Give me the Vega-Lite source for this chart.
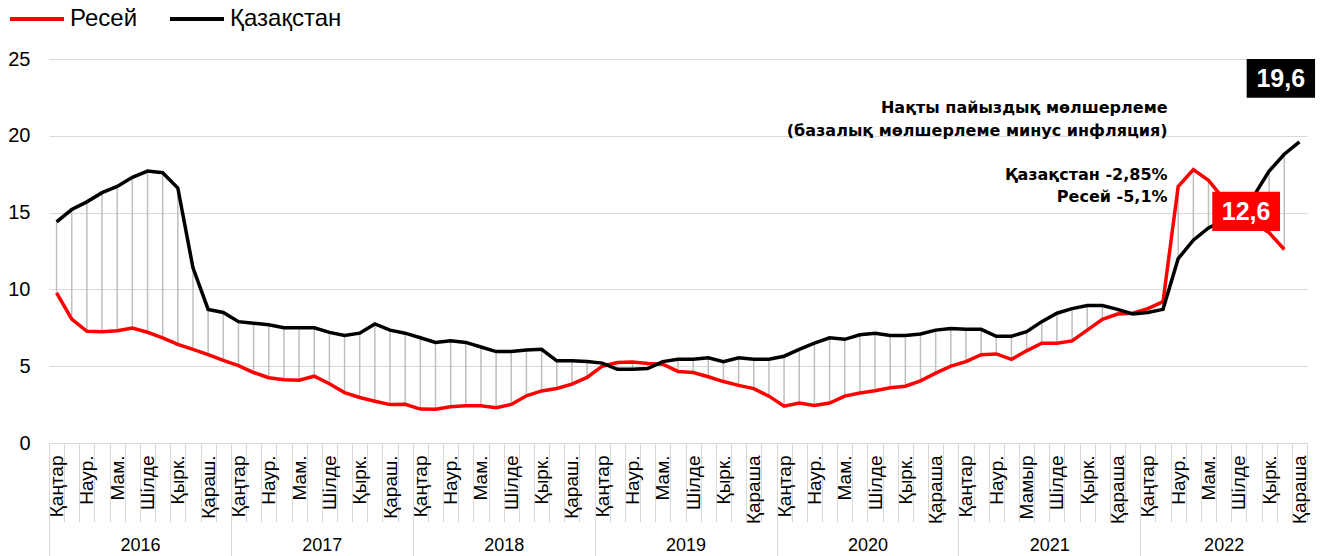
{
  "$schema": "https://vega.github.io/schema/vega-lite/v6.json",
  "width": 1258,
  "height": 384,
  "autosize": {"type": "none"},
  "padding": {"left": 49, "top": 59, "right": 14, "bottom": 113},
  "background": "white",
  "config": {
    "view": {"stroke": null},
    "font": "Liberation Sans",
    "axis": {"labelFont": "Liberation Sans", "labelColor": "#000000"}
  },
  "data": {
    "values": [
      {"i": 0, "Қазақстан": 14.4, "Ресей": 9.77},
      {"i": 1, "Қазақстан": 15.2, "Ресей": 8.06},
      {"i": 2, "Қазақстан": 15.7, "Ресей": 7.27},
      {"i": 3, "Қазақстан": 16.3, "Ресей": 7.25},
      {"i": 4, "Қазақстан": 16.7, "Ресей": 7.31},
      {"i": 5, "Қазақстан": 17.3, "Ресей": 7.48},
      {"i": 6, "Қазақстан": 17.7, "Ресей": 7.21},
      {"i": 7, "Қазақстан": 17.6, "Ресей": 6.85},
      {"i": 8, "Қазақстан": 16.6, "Ресей": 6.42},
      {"i": 9, "Қазақстан": 11.4, "Ресей": 6.09},
      {"i": 10, "Қазақстан": 8.7, "Ресей": 5.76},
      {"i": 11, "Қазақстан": 8.5, "Ресей": 5.38},
      {"i": 12, "Қазақстан": 7.9, "Ресей": 5.04},
      {"i": 13, "Қазақстан": 7.8, "Ресей": 4.59},
      {"i": 14, "Қазақстан": 7.7, "Ресей": 4.25},
      {"i": 15, "Қазақстан": 7.5, "Ресей": 4.12},
      {"i": 16, "Қазақстан": 7.5, "Ресей": 4.09},
      {"i": 17, "Қазақстан": 7.5, "Ресей": 4.35},
      {"i": 18, "Қазақстан": 7.2, "Ресей": 3.86},
      {"i": 19, "Қазақстан": 7.0, "Ресей": 3.28},
      {"i": 20, "Қазақстан": 7.15, "Ресей": 2.96},
      {"i": 21, "Қазақстан": 7.75, "Ресей": 2.72},
      {"i": 22, "Қазақстан": 7.35, "Ресей": 2.5},
      {"i": 23, "Қазақстан": 7.15, "Ресей": 2.52},
      {"i": 24, "Қазақстан": 6.85, "Ресей": 2.21},
      {"i": 25, "Қазақстан": 6.55, "Ресей": 2.2},
      {"i": 26, "Қазақстан": 6.65, "Ресей": 2.36},
      {"i": 27, "Қазақстан": 6.55, "Ресей": 2.42},
      {"i": 28, "Қазақстан": 6.25, "Ресей": 2.42},
      {"i": 29, "Қазақстан": 5.95, "Ресей": 2.3},
      {"i": 30, "Қазақстан": 5.95, "Ресей": 2.51},
      {"i": 31, "Қазақстан": 6.05, "Ресей": 3.07},
      {"i": 32, "Қазақстан": 6.1, "Ресей": 3.39},
      {"i": 33, "Қазақстан": 5.35, "Ресей": 3.55},
      {"i": 34, "Қазақстан": 5.35, "Ресей": 3.83},
      {"i": 35, "Қазақстан": 5.3, "Ресей": 4.27},
      {"i": 36, "Қазақстан": 5.2, "Ресей": 5.0},
      {"i": 37, "Қазақстан": 4.8, "Ресей": 5.24},
      {"i": 38, "Қазақстан": 4.8, "Ресей": 5.27},
      {"i": 39, "Қазақстан": 4.85, "Ресей": 5.17},
      {"i": 40, "Қазақстан": 5.3, "Ресей": 5.13},
      {"i": 41, "Қазақстан": 5.45, "Ресей": 4.66},
      {"i": 42, "Қазақстан": 5.45, "Ресей": 4.59},
      {"i": 43, "Қазақстан": 5.55, "Ресей": 4.31},
      {"i": 44, "Қазақстан": 5.3, "Ресей": 4.0},
      {"i": 45, "Қазақстан": 5.55, "Ресей": 3.75},
      {"i": 46, "Қазақстан": 5.45, "Ресей": 3.54},
      {"i": 47, "Қазақстан": 5.45, "Ресей": 3.05},
      {"i": 48, "Қазақстан": 5.65, "Ресей": 2.4},
      {"i": 49, "Қазақстан": 6.1, "Ресей": 2.6},
      {"i": 50, "Қазақстан": 6.5, "Ресей": 2.45},
      {"i": 51, "Қазақстан": 6.85, "Ресей": 2.6},
      {"i": 52, "Қазақстан": 6.75, "Ресей": 3.05},
      {"i": 53, "Қазақстан": 7.05, "Ресей": 3.25},
      {"i": 54, "Қазақстан": 7.15, "Ресей": 3.4},
      {"i": 55, "Қазақстан": 7.0, "Ресей": 3.6},
      {"i": 56, "Қазақстан": 7.0, "Ресей": 3.7},
      {"i": 57, "Қазақстан": 7.1, "Ресей": 4.05},
      {"i": 58, "Қазақстан": 7.35, "Ресей": 4.55},
      {"i": 59, "Қазақстан": 7.45, "Ресей": 5.0},
      {"i": 60, "Қазақстан": 7.4, "Ресей": 5.3},
      {"i": 61, "Қазақстан": 7.4, "Ресей": 5.75},
      {"i": 62, "Қазақстан": 6.95, "Ресей": 5.8},
      {"i": 63, "Қазақстан": 6.95, "Ресей": 5.45},
      {"i": 64, "Қазақстан": 7.25, "Ресей": 6.0},
      {"i": 65, "Қазақстан": 7.9, "Ресей": 6.5},
      {"i": 66, "Қазақстан": 8.45, "Ресей": 6.5},
      {"i": 67, "Қазақстан": 8.75, "Ресей": 6.65},
      {"i": 68, "Қазақстан": 8.95, "Ресей": 7.35},
      {"i": 69, "Қазақстан": 8.95, "Ресей": 8.05},
      {"i": 70, "Қазақстан": 8.7, "Ресей": 8.4},
      {"i": 71, "Қазақстан": 8.4, "Ресей": 8.45},
      {"i": 72, "Қазақстан": 8.5, "Ресей": 8.75},
      {"i": 73, "Қазақстан": 8.7, "Ресей": 9.2},
      {"i": 74, "Қазақстан": 12.0, "Ресей": 16.7},
      {"i": 75, "Қазақстан": 13.2, "Ресей": 17.8},
      {"i": 76, "Қазақстан": 14.0, "Ресей": 17.1},
      {"i": 77, "Қазақстан": 14.5, "Ресей": 15.9},
      {"i": 78, "Қазақстан": 15.0, "Ресей": 15.1},
      {"i": 79, "Қазақстан": 16.1, "Ресей": 14.3},
      {"i": 80, "Қазақстан": 17.7, "Ресей": 13.7},
      {"i": 81, "Қазақстан": 18.8, "Ресей": 12.6},
      {"i": 82, "Қазақстан": 19.6}
    ]
  },
  "resolve": {"axis": {"x": "independent"}},
  "layer": [
    {
      "mark": {"type": "rule", "color": "#bfbfbf", "strokeWidth": 1.5},
      "encoding": {
        "x": {
          "field": "i", "type": "quantitative",
          "scale": {"domain": [-0.5, 82.5], "nice": false, "zero": false},
          "axis": {
            "orient": "bottom", "title": null, "grid": false, "labels": false,
            "values": [-0.5,0.5,1.5,2.5,3.5,4.5,5.5,6.5,7.5,8.5,9.5,10.5,11.5,12.5,13.5,14.5,15.5,16.5,17.5,18.5,19.5,20.5,21.5,22.5,23.5,24.5,25.5,26.5,27.5,28.5,29.5,30.5,31.5,32.5,33.5,34.5,35.5,36.5,37.5,38.5,39.5,40.5,41.5,42.5,43.5,44.5,45.5,46.5,47.5,48.5,49.5,50.5,51.5,52.5,53.5,54.5,55.5,56.5,57.5,58.5,59.5,60.5,61.5,62.5,63.5,64.5,65.5,66.5,67.5,68.5,69.5,70.5,71.5,72.5,73.5,74.5,75.5,76.5,77.5,78.5,79.5,80.5,81.5,82.5],
            "ticks": true, "tickSize": 79, "tickColor": "#d9d9d9", "tickWidth": 1,
            "domain": true, "domainColor": "#d9d9d9", "domainWidth": 1
          }
        },
        "y": {
          "field": "Ресей", "type": "quantitative",
          "scale": {"domain": [0, 25], "nice": false, "zero": true},
          "axis": {
            "title": null, "values": [0, 5, 10, 15, 20, 25], "grid": true,
            "gridColor": "#d9d9d9", "gridWidth": 1.2, "ticks": false, "tickSize": 0,
            "domain": false, "labelFontSize": 20, "labelPadding": 19
          }
        },
        "y2": {"field": "Қазақстан"}
      }
    },
    {
      "mark": {"type": "line", "strokeWidth": 3.5},
      "encoding": {
        "x": {
          "field": "i", "type": "quantitative",
          "axis": {
            "orient": "bottom", "title": null, "grid": false,
            "values": [0,2,4,6,8,10,12,14,16,18,20,22,24,26,28,30,32,34,36,38,40,42,44,46,48,50,52,54,56,58,60,62,64,66,68,70,72,74,76,78,80,82],
            "labelExpr": "['Қаңтар','Наур.','Мам.','Шілде','Қырк.','Қараш.','Қаңтар','Наур.','Мам.','Шілде','Қырк.','Қараш.','Қаңтар','Наур.','Мам.','Шілде','Қырк.','Қараш.','Қаңтар','Наур.','Мам.','Шілде','Қырк.','Қараша','Қаңтар','Наур.','Мам.','Шілде','Қырк.','Қараша','Қаңтар','Наур.','Мамыр','Шілде','Қырк.','Қараша','Қаңтар','Наур.','Мам.','Шілде','Қырк.','Қараша'][datum.value / 2]",
            "labelAngle": -90, "labelFontSize": 19, "labelPadding": 12,
            "ticks": false, "tickSize": 0, "domain": false,
            "labelOverlap": false, "labelFlush": false
          }
        },
        "y": {"field": "Ресей", "type": "quantitative", "title": null},
        "color": {
          "datum": "Ресей", "type": "nominal",
          "scale": {"domain": ["Ресей", "Қазақстан"], "range": ["#ff0000", "#000000"]},
          "legend": {
            "title": null, "orient": "none", "legendX": -41, "legendY": -69,
            "direction": "horizontal", "symbolType": "stroke", "symbolSize": 2916,
            "symbolStrokeWidth": 4, "labelFontSize": 24, "labelFont": "Liberation Sans",
            "labelColor": "#000000", "labelOffset": 4, "columnPadding": 24, "padding": 0
          }
        }
      }
    },
    {
      "mark": {"type": "line", "strokeWidth": 3.5},
      "encoding": {
        "x": {
          "field": "i", "type": "quantitative",
          "axis": {
            "orient": "bottom", "title": null, "grid": false, "labels": false,
            "values": [-0.5, 11.5, 23.5, 35.5, 47.5, 59.5, 71.5],
            "ticks": true, "tickSize": 113, "tickColor": "#d9d9d9", "tickWidth": 1,
            "domain": false
          }
        },
        "y": {"field": "Қазақстан", "type": "quantitative", "title": null},
        "color": {"datum": "Қазақстан", "type": "nominal"}
      }
    },
    {
      "data": {"values": [{}]},
      "mark": {"type": "rect", "color": "#000000"},
      "encoding": {
        "x": {
          "datum": 78.52, "type": "quantitative",
          "axis": {
            "orient": "bottom", "title": null, "grid": false,
            "values": [5.5, 17.5, 29.5, 41.5, 53.5, 65.5, 77],
            "labelExpr": "'' + (2016 + floor(datum.value / 12))",
            "labelFontSize": 18, "labelPadding": 93, "labelAngle": 0,
            "ticks": false, "tickSize": 0, "domain": false,
            "labelOverlap": false, "labelFlush": false
          }
        },
        "x2": {"datum": 83.03},
        "y": {"datum": 22.48, "type": "quantitative"},
        "y2": {"datum": 25.0}
      }
    },
    {
      "data": {"values": [{}]},
      "mark": {"type": "rect", "color": "#ff0000"},
      "encoding": {
        "x": {"datum": 76.25, "type": "quantitative", "axis": null},
        "x2": {"datum": 80.72},
        "y": {"datum": 13.8, "type": "quantitative"},
        "y2": {"datum": 16.36}
      }
    },
    {
      "data": {"values": [{}]},
      "mark": {"type": "text", "text": "19,6", "font": "Liberation Sans", "fontWeight": "bold", "fontSize": 25, "color": "#ffffff", "align": "center", "baseline": "middle"},
      "encoding": {
        "x": {"datum": 80.77, "type": "quantitative", "axis": null},
        "y": {"datum": 23.73, "type": "quantitative"}
      }
    },
    {
      "data": {"values": [{}]},
      "mark": {"type": "text", "text": "12,6", "font": "Liberation Sans", "fontWeight": "bold", "fontSize": 25, "color": "#ffffff", "align": "center", "baseline": "middle"},
      "encoding": {
        "x": {"datum": 78.48, "type": "quantitative", "axis": null},
        "y": {"datum": 15.07, "type": "quantitative"}
      }
    },
    {
      "data": {"values": [{}]},
      "mark": {"type": "text", "text": ["Нақты пайыздық мөлшерлеме", "(базалық мөлшерлеме минус инфляция)"], "font": "DejaVu Sans", "fontWeight": "bold", "fontSize": 16, "lineHeight": 23.2, "color": "#000000", "align": "right", "baseline": "middle"},
      "encoding": {
        "x": {"datum": 73.3, "type": "quantitative", "axis": null},
        "y": {"datum": 21.79, "type": "quantitative"}
      }
    },
    {
      "data": {"values": [{}]},
      "mark": {"type": "text", "text": ["Қазақстан -2,85%", "Ресей -5,1%"], "font": "DejaVu Sans", "fontWeight": "bold", "fontSize": 16, "lineHeight": 22.2, "color": "#000000", "align": "right", "baseline": "middle"},
      "encoding": {
        "x": {"datum": 73.3, "type": "quantitative", "axis": null},
        "y": {"datum": 17.48, "type": "quantitative"}
      }
    }
  ]
}
